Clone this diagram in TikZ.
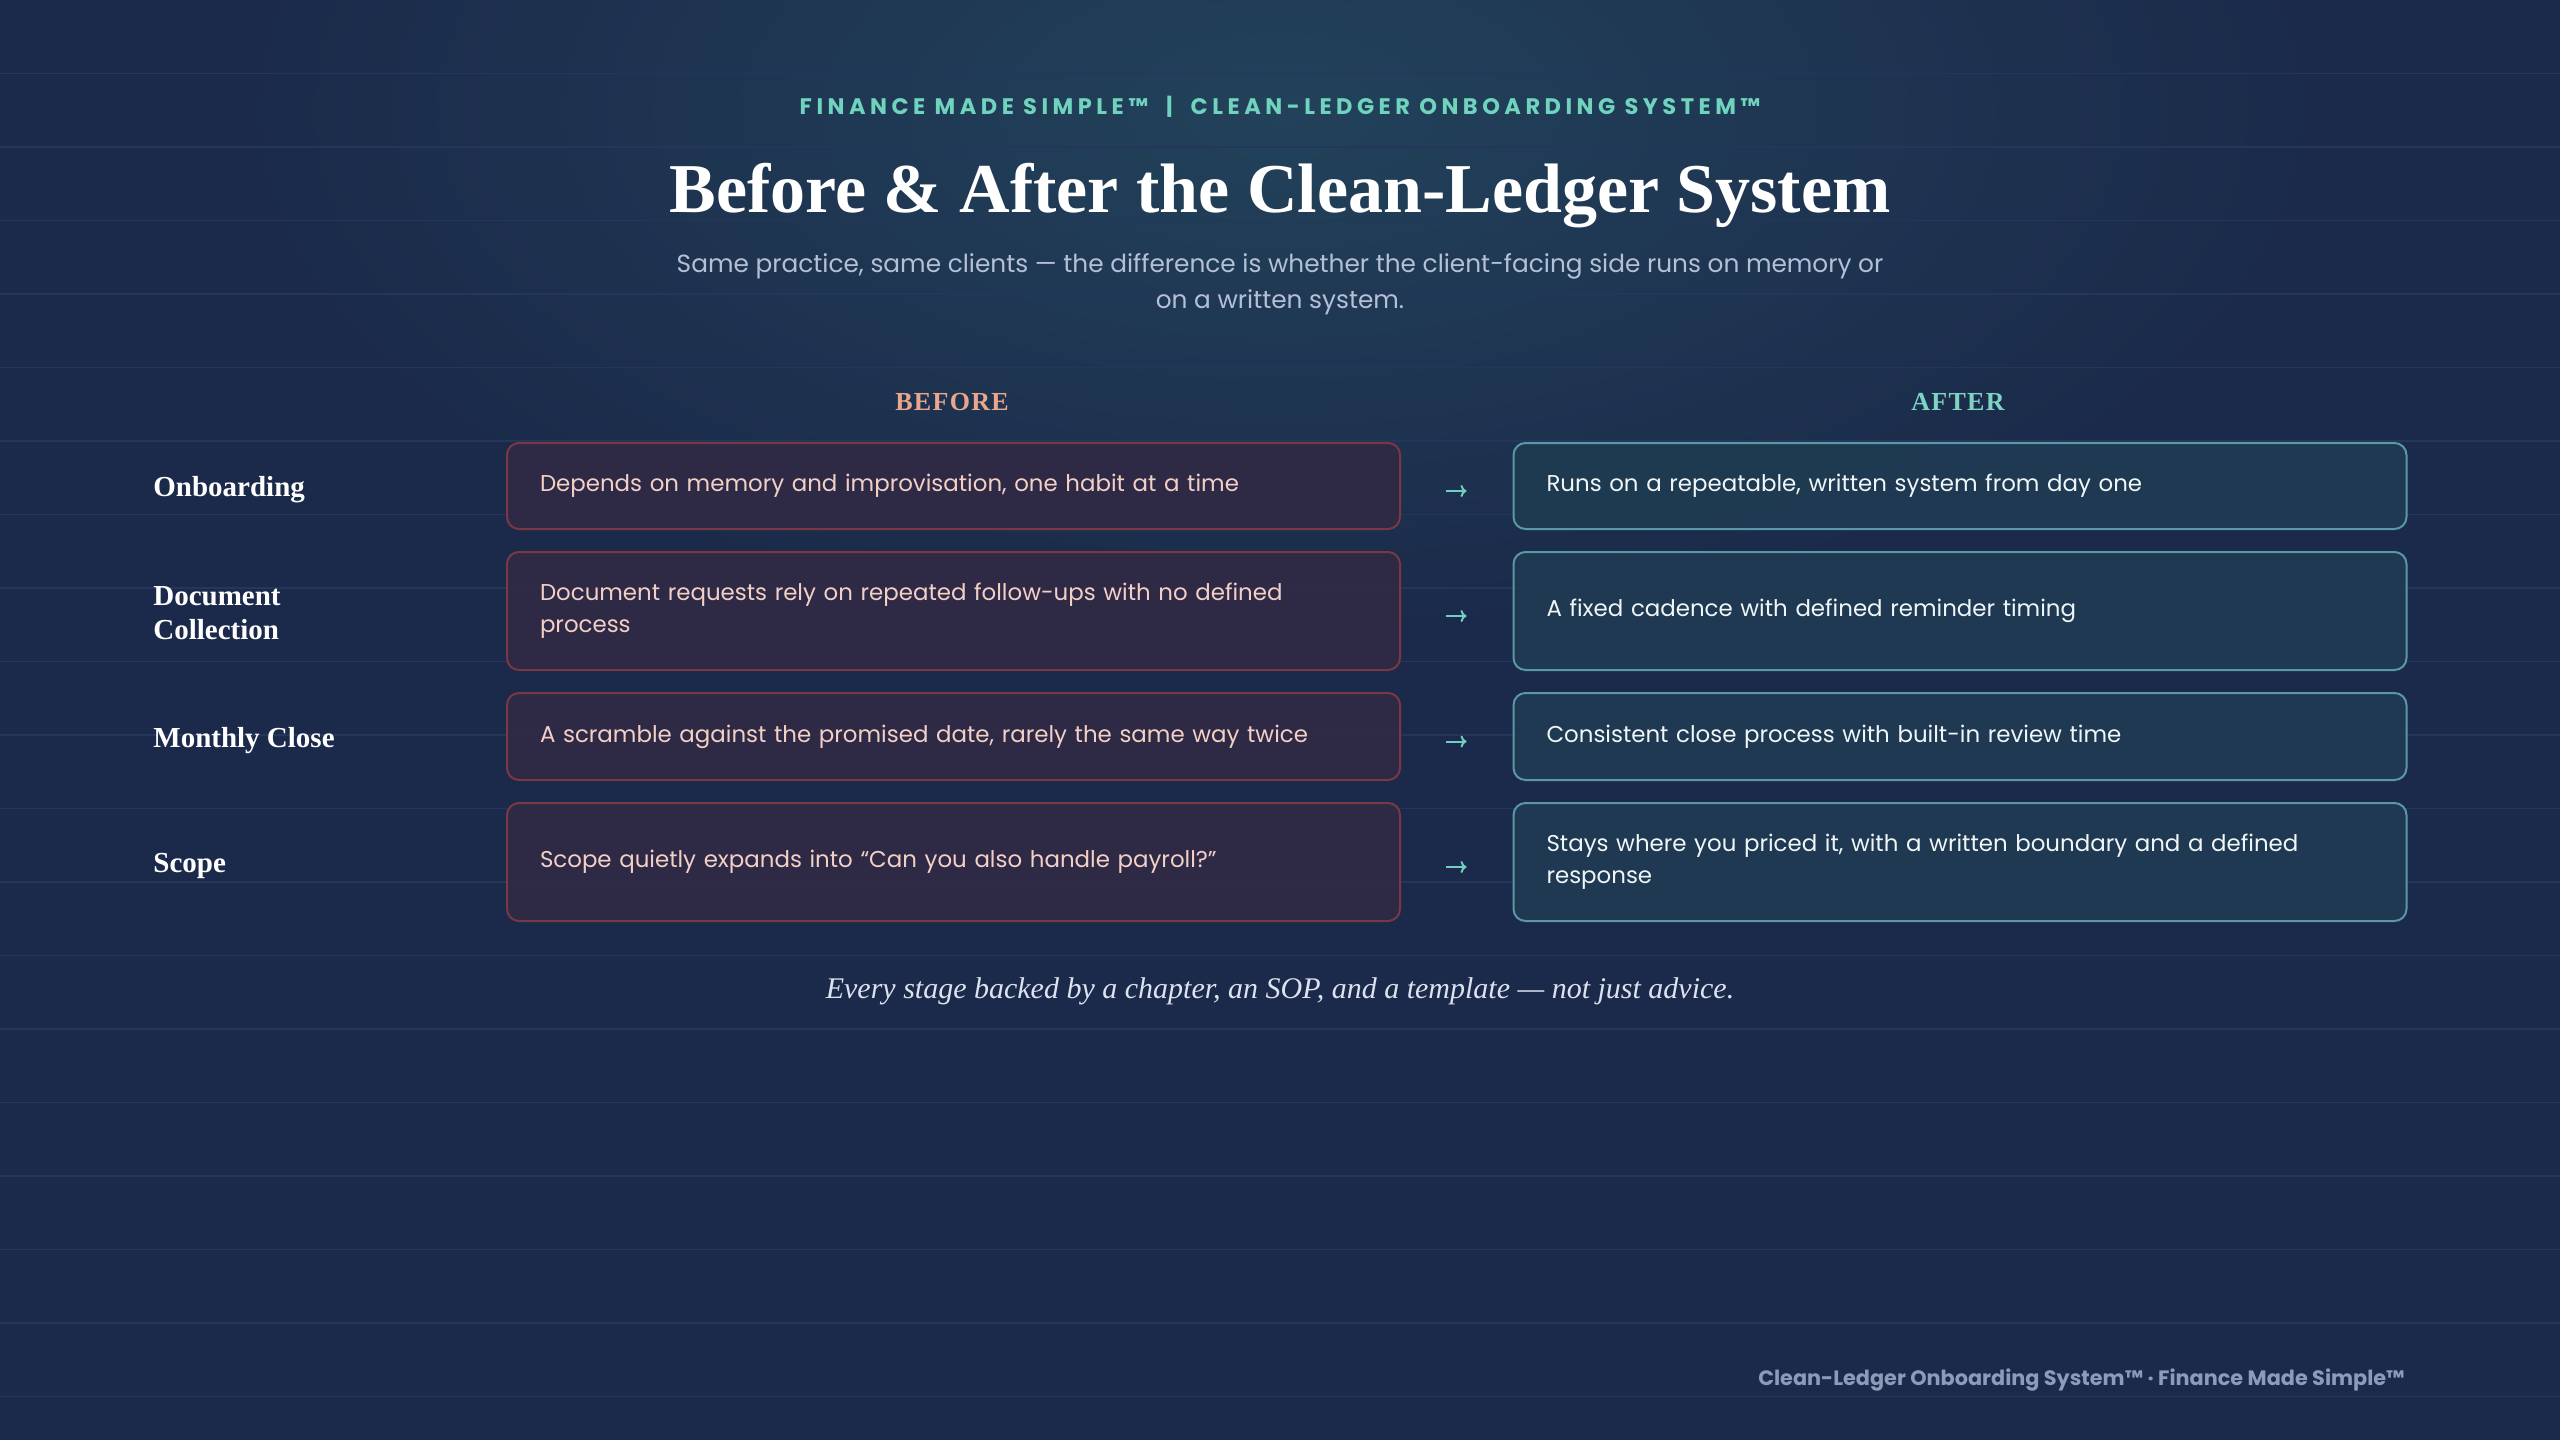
\documentclass[tikz,border=0pt]{standalone}
\usepackage{fontspec}
\setmainfont{Liberation Serif}
\newfontfamily\pop{Poppins}
\usetikzlibrary{arrows.meta,calc}
\definecolor{bgc}{HTML}{1B2A4A}
\definecolor{glowc}{HTML}{22425A}
\definecolor{gridc}{HTML}{24365A}
\definecolor{hdrc}{HTML}{6FD3BE}
\definecolor{subc}{HTML}{B4C0D6}
\definecolor{beforec}{HTML}{E9A68C}
\definecolor{afterc}{HTML}{7ED3C2}
\definecolor{bfill}{HTML}{302A45}
\definecolor{bbord}{HTML}{7A3843}
\definecolor{btext}{HTML}{F3D0C6}
\definecolor{afill}{HTML}{1F3B52}
\definecolor{abord}{HTML}{5A98A6}
\definecolor{atext}{HTML}{F0F6F8}
\definecolor{arrc}{HTML}{6FCFC0}
\definecolor{italc}{HTML}{DCE2EE}
\definecolor{footc}{HTML}{8C9BB8}
\begin{document}
\begin{tikzpicture}[x=0.5pt,y=-0.5pt,
  gridline/.style={draw=gridc, line width=0.8pt},
  boxbase/.style={line width=1pt, rounded corners=6pt, anchor=west,
    minimum width=446.5pt, text width=413.5pt, inner xsep=16.5pt, inner ysep=0pt,
    align=left, fill opacity=0.93, text opacity=1,
    font=\pop\fontsize{11.45}{16}\selectfont},
  beforebox/.style={boxbase, draw=bbord, fill=bfill, text=btext},
  afterbox/.style={boxbase, draw=abord, fill=afill, text=atext},
  rowlabel/.style={anchor=west, inner sep=0pt, align=left, text=white,
    font=\bfseries\fontsize{14.5}{17}\selectfont},
  colhead/.style={anchor=base, inner sep=0pt,
    font=\bfseries\fontsize{13}{16}\selectfont\addfontfeatures{LetterSpace=5}},
  subline/.style={anchor=base, inner sep=0pt, text=subc,
    font=\pop\fontsize{12.4}{18.5}\selectfont},
  flowarrow/.style={draw=arrc, line width=1pt, -{To[length=3pt,width=6pt]}}
]
\useasboundingbox (0,0) rectangle (2560,1440);
\fill[bgc] (0,0) rectangle (2560,1440);
\begin{scope}
  \clip (0,0) rectangle (2560,1440);
  \shade[inner color=glowc, outer color=bgc] (1280,110) ellipse [x radius=520pt, y radius=260pt];
\end{scope}
\foreach \k in {1,...,19} \draw[gridline] (0,\k*73.5) -- (2560,\k*73.5);

% header
\node[anchor=base, inner sep=0pt, text=hdrc,
  font=\pop\bfseries\fontsize{11.25}{13}\selectfont\addfontfeatures{LetterSpace=20}]
  (hdr) at (1280,114) {FINANCE MADE SIMPLE™\hspace*{9pt}|\hspace*{9pt}CLEAN-LEDGER ONBOARDING SYSTEM™};
\node[anchor=base, inner sep=0pt, text=white, font=\bfseries\fontsize{35}{40}\selectfont]
  (title) at (1280,212) {Before \& After the Clean-Ledger System};
\node[subline] (sub1) at (1280,272) {Same practice, same clients — the difference is whether the client-facing side runs on memory or};
\node[subline] (sub2) at (1280,308) {on a written system.};

% column heads
\node[colhead, text=beforec] (hb) at (952,410) {BEFORE};
\node[colhead, text=afterc] (ha) at (1958,410) {AFTER};

% row labels
\node[rowlabel] (l1) at (153,490) {Onboarding};
\node[rowlabel] (l2) at (153,613) {Document\\Collection};
\node[rowlabel] (l3) at (153,741) {Monthly Close};
\node[rowlabel] (l4) at (153,866) {Scope};

% before boxes
\node[beforebox, minimum height=43pt] (b1) at (506,486) {Depends on memory and improvisation, one habit at a time};
\node[beforebox, minimum height=59pt] (b2) at (506,611) {Document requests rely on repeated follow-ups with no defined\\process};
\node[beforebox, minimum height=43.5pt] (b3) at (506,736.5) {A scramble against the promised date, rarely the same way twice};
\node[beforebox, minimum height=59pt] (b4) at (506,862) {Scope quietly expands into “Can you also handle payroll?”};

% after boxes
\node[afterbox, minimum height=43pt] (a1) at (1512.5,486) {Runs on a repeatable, written system from day one};
\node[afterbox, minimum height=59pt] (a2) at (1512.5,611) {A fixed cadence with defined reminder timing};
\node[afterbox, minimum height=43.5pt] (a3) at (1512.5,736.5) {Consistent close process with built-in review time};
\node[afterbox, minimum height=59pt] (a4) at (1512.5,862) {Stays where you priced it, with a written boundary and a defined\\response};

% arrows
\foreach \i in {1,2,3,4}
  \draw[flowarrow] ($(b\i.east)+(45,5)$) -- ($(a\i.west)+(-46,5)$);

% closing line and footer
\node[anchor=base, inner sep=0pt, text=italc, font=\itshape\fontsize{15}{18}\selectfont]
  (close) at (1280,998) {Every stage backed by a chapter, an SOP, and a template — not just advice.};
\node[anchor=base east, inner sep=0pt, text=footc, font=\pop\bfseries\fontsize{10.4}{12}\selectfont]
  (foot) at (2405,1385) {Clean-Ledger Onboarding System™ · Finance Made Simple™};
\end{tikzpicture}
\end{document}
